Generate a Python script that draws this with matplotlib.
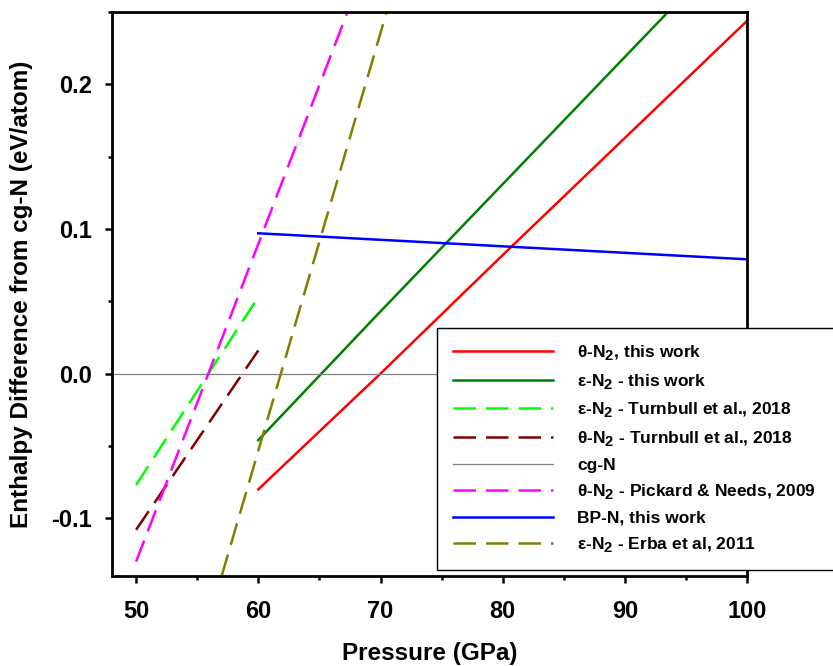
import matplotlib
matplotlib.use('Agg')
import matplotlib.pyplot as plt
from matplotlib.ticker import MultipleLocator, FormatStrFormatter

plt.rcParams['font.family'] = ['Liberation Sans', 'DejaVu Sans']
plt.rcParams['font.weight'] = 'bold'
plt.rcParams['mathtext.fontset'] = 'custom'
plt.rcParams['mathtext.rm'] = 'Liberation Sans:bold'
plt.rcParams['mathtext.bf'] = 'Liberation Sans:bold'
plt.rcParams['axes.unicode_minus'] = False

# bigger subscripts, like the original
try:
    import matplotlib._mathtext as _mt
    _mt.SHRINK_FACTOR = 0.85
except Exception:
    pass

# data
theta_p = [60, 70, 80, 90, 100]
theta_h = [-0.080, 0.000, 0.082, 0.163, 0.244]

eps_p = [60, 70, 80, 90, 100]
eps_h = [-0.046, 0.043, 0.131, 0.219, 0.307]

eps_turn_p = [50, 60]
eps_turn_h = [-0.077, 0.053]

theta_turn_p = [50, 60]
theta_turn_h = [-0.108, 0.016]

cgn_p = [48, 100]
cgn_h = [0.0, 0.0]

pick_p = [50, 67.3]
pick_h = [-0.130, 0.250]

bpn_p = [60, 100]
bpn_h = [0.097, 0.079]

erba_p = [57.0, 70.5]
erba_h = [-0.140, 0.250]

sub2 = r'$_\mathbf{2}$'
labels = ['θ-N' + sub2 + ', this work',
          'ε-N' + sub2 + ' - this work',
          'ε-N' + sub2 + ' - Turnbull et al., 2018',
          'θ-N' + sub2 + ' - Turnbull et al., 2018',
          'cg-N',
          'θ-N' + sub2 + ' - Pickard & Needs, 2009',
          'BP-N, this work',
          'ε-N' + sub2 + ' - Erba et al, 2011']

fig = plt.figure(figsize=(8.33, 6.66), dpi=100)
ax = fig.add_axes([0.134, 0.135, 0.763, 0.847])

dash = (9, 4)
lw = 1.8
h1, = ax.plot(theta_p, theta_h, color='#ff0000', lw=lw)
h2, = ax.plot(eps_p, eps_h, color='#008000', lw=lw)
h3, = ax.plot(eps_turn_p, eps_turn_h, color='#00ff00', lw=lw, dashes=dash)
h4, = ax.plot(theta_turn_p, theta_turn_h, color='#800000', lw=lw, dashes=dash)
h5, = ax.plot(cgn_p, cgn_h, color='#808080', lw=0.9)
h6, = ax.plot(pick_p, pick_h, color='#ff00ff', lw=lw, dashes=dash)
h7, = ax.plot(bpn_p, bpn_h, color='#0000ff', lw=lw)
h8, = ax.plot(erba_p, erba_h, color='#808000', lw=lw, dashes=dash)

ax.set_xlim(48, 100)
ax.set_ylim(-0.14, 0.25)
ax.xaxis.set_major_locator(MultipleLocator(10))
ax.xaxis.set_minor_locator(MultipleLocator(5))
ax.yaxis.set_major_locator(MultipleLocator(0.1))
ax.yaxis.set_minor_locator(MultipleLocator(0.05))
ax.yaxis.set_major_formatter(FormatStrFormatter('%.1f'))

for s in ax.spines.values():
    s.set_linewidth(2)
ax.tick_params(which='major', direction='out', length=5, width=1.8, labelsize=17)
ax.tick_params(which='minor', direction='out', length=3, width=1.8)
ax.tick_params(axis='x', which='major', pad=12)
ax.tick_params(axis='y', which='major', pad=9)

ax.set_xlabel('Pressure (GPa)', fontsize=17.5, fontweight='bold', labelpad=14)
ax.set_ylabel('Enthalpy Difference from cg-N (eV/atom)', fontsize=17.5,
              fontweight='bold', labelpad=13)

leg = fig.legend([h1, h2, h3, h4, h5, h6, h7, h8], labels,
                 loc='lower left', bbox_to_anchor=(0.5246, 0.1441, 0.6, 0.3),
                 mode='expand', fontsize=12.5, handlelength=5.76,
                 handletextpad=1.4, borderpad=0.9, labelspacing=0.55,
                 fancybox=False, framealpha=1, edgecolor='black',
                 borderaxespad=0)
leg.get_frame().set_linewidth(1.0)

fig.savefig('out.png', dpi=100, facecolor='white')
